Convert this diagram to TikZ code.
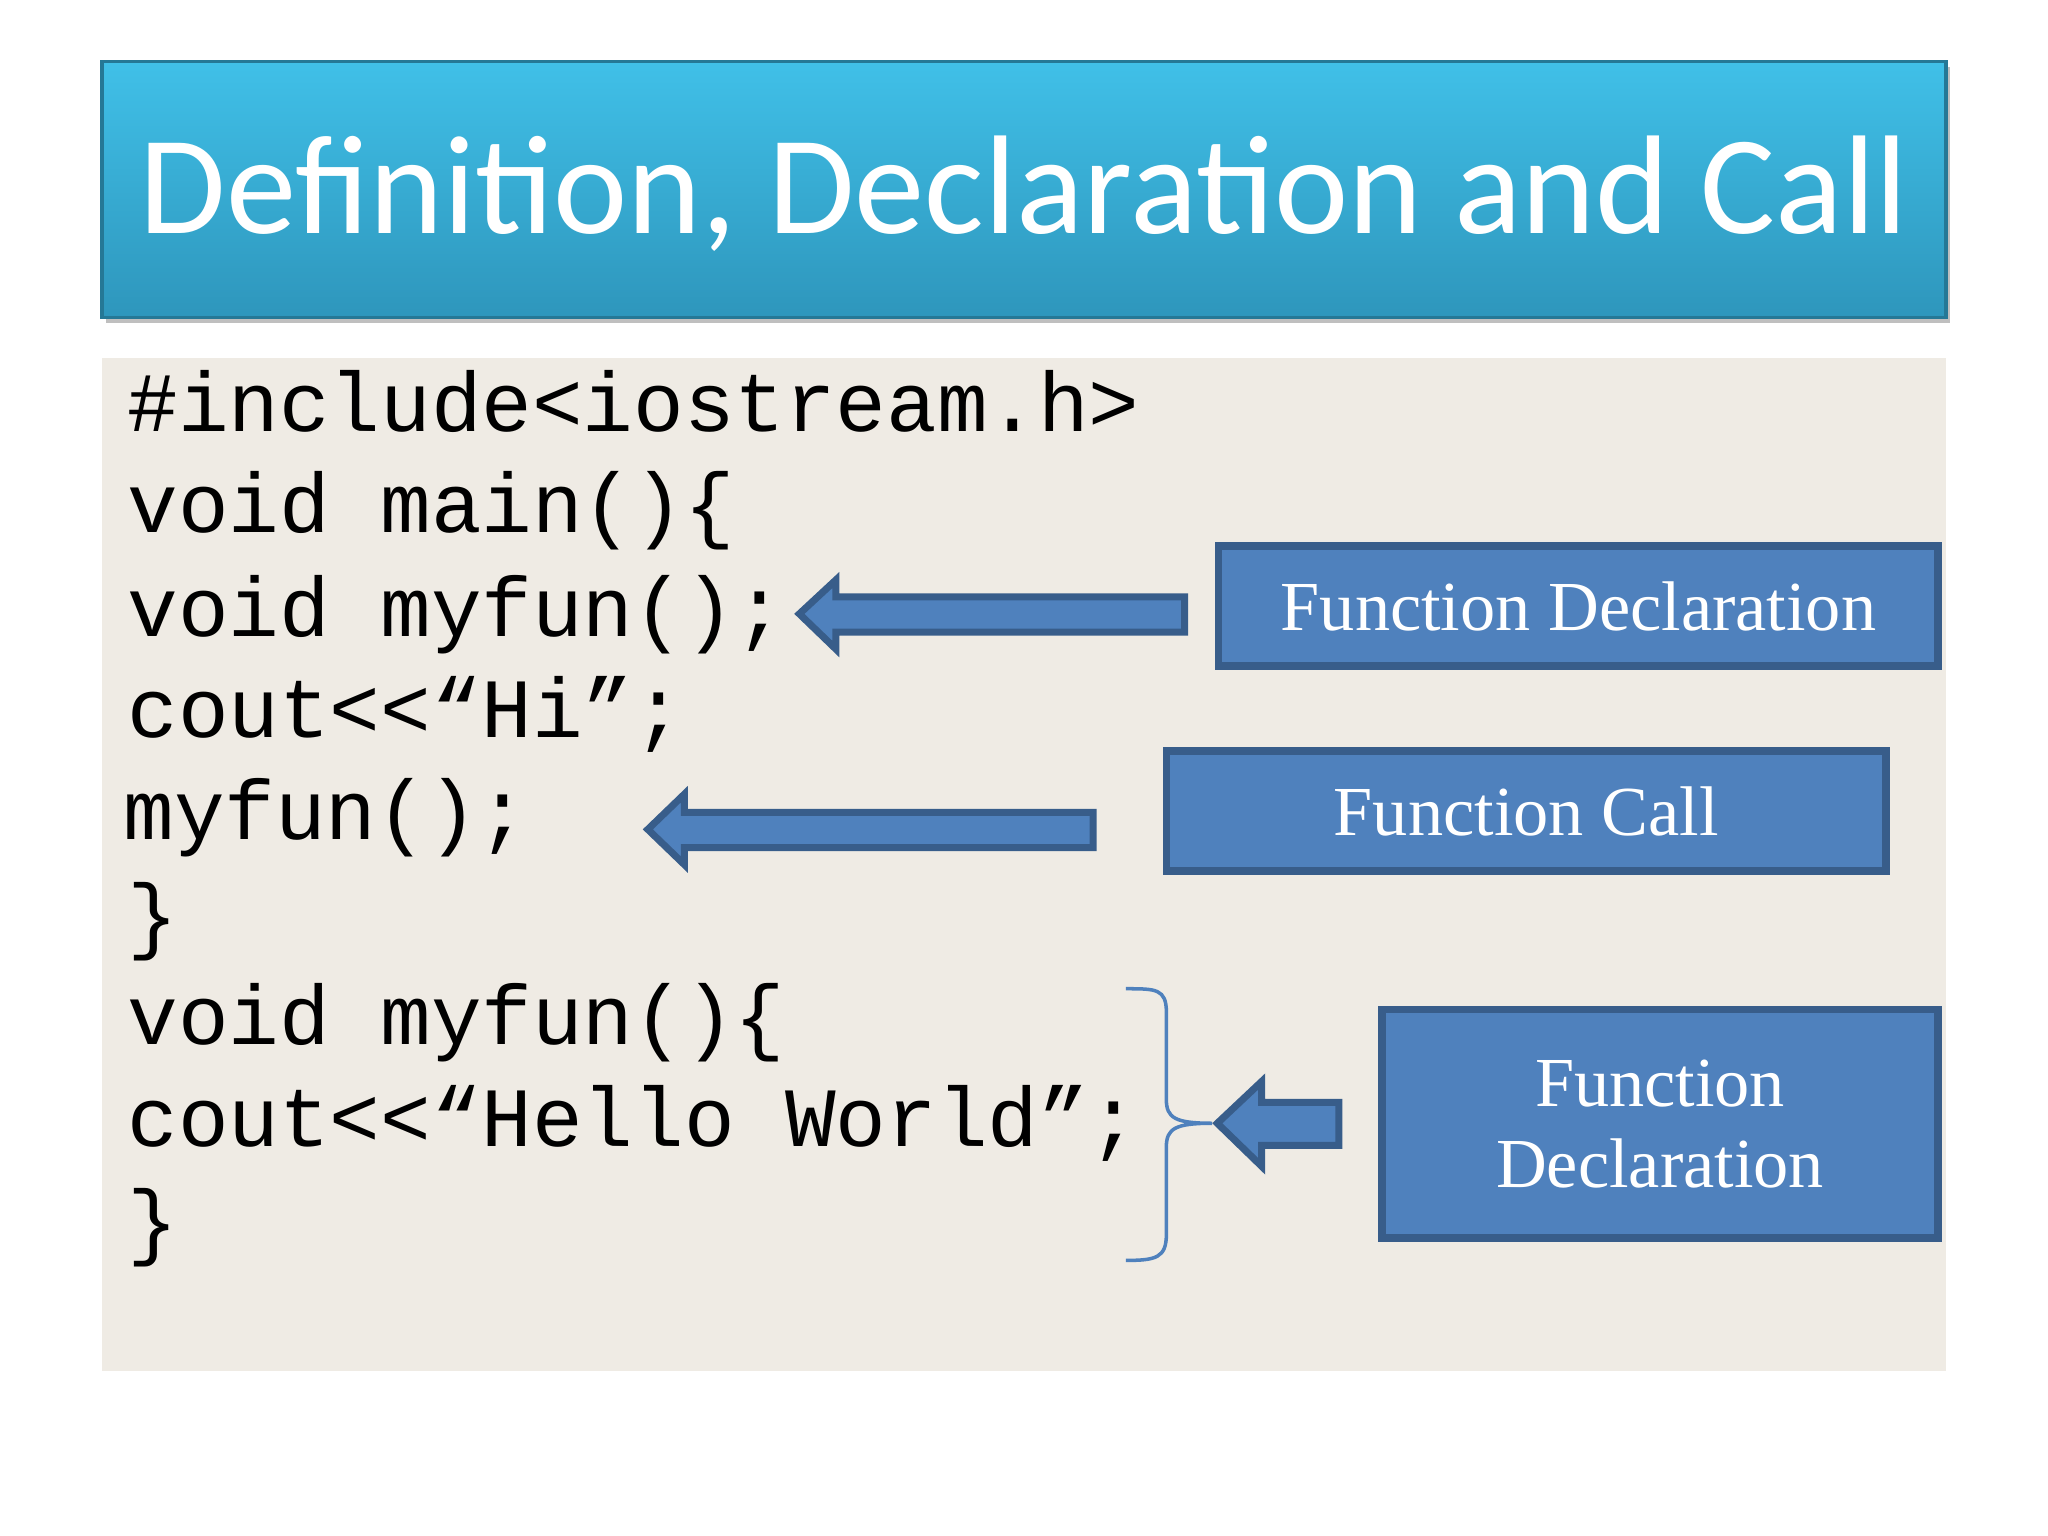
\documentclass[tikz,border=0pt]{standalone}
\usepackage{fontspec}
\setmainfont{Liberation Serif}
\newfontfamily\titlefont{Carlito}
\newfontfamily\codefont{Liberation Mono}
\usetikzlibrary{decorations.pathreplacing}
\definecolor{boxfill}{HTML}{4F81BD}
\definecolor{boxline}{HTML}{385D8A}
\definecolor{codebg}{HTML}{EFEBE4}
\definecolor{titletop}{HTML}{40C0E8}
\definecolor{titlebot}{HTML}{2E96BC}
\tikzset{
  lbl/.style={draw=boxline,line width=2.2pt,fill=boxfill,text=white,font=\fontsize{20}{23}\selectfont,align=center},
  blockarrow/.style={draw=boxline,line width=2pt,fill=boxfill,line join=miter},
  code/.style={anchor=base west,inner sep=0pt,font=\codefont\fontsize{24}{24}\selectfont}
}
\begin{document}
\begin{tikzpicture}[x=0.01306cm,y=-0.01306cm]
\useasboundingbox (0,0) rectangle (1568,1176);
\fill[white] (0,0) rectangle (1568,1176);
% title
\fill[black!25] (81,51) rectangle (1493,247);
\shade[top color=titletop,bottom color=titlebot,draw=titlebot!80!black,line width=1pt] (78,47) rectangle (1490,243);
\node[text=white,font=\titlefont\fontsize{40}{44}\selectfont] (title) at (784,148) {Definition, Declaration and Call};
% code box
\fill[codebg] (78,274) rectangle (1490,1050);
\node[code] (l1) at (97,330) {\#include<iostream.h>};
\node[code] (l2) at (97,408) {void main()\{};
\node[code] (l3) at (97,487) {void myfun();};
\node[code] (l4) at (97,565) {cout<<“Hi”;};
\node[code] (l5) at (94,643) {myfun();};
\node[code] (l6) at (97,722) {\}};
\node[code] (l7) at (97,800) {void myfun()\{};
\node[code] (l8) at (97,878) {cout<<“Hello World”;};
\node[code] (l9) at (97,957) {\}};
% labels
\node[lbl,minimum width=551*0.01306cm,minimum height=92*0.01306cm] (b1) at (1208.5,464) {Function Declaration};
\node[lbl,minimum width=551*0.01306cm,minimum height=92*0.01306cm] (b2) at (1168.5,621) {Function Call};
\node[lbl,minimum width=426*0.01306cm,minimum height=175*0.01306cm] (b3) at (1271,860.5) {Function\\Declaration};
% arrows
\draw[blockarrow] (612,470) -- (640,444) -- (640,457) -- (907,457) -- (907,484) -- (640,484) -- (640,497) -- cycle;
\draw[blockarrow] (496,635) -- (524,608) -- (524,622) -- (837,622) -- (837,649) -- (524,649) -- (524,662) -- cycle;
\draw[blockarrow] (932,860) -- (966,828) -- (966,844) -- (1025,844) -- (1025,877) -- (966,877) -- (966,893) -- cycle;
% brace
\coordinate (bt) at (862,757);
\coordinate (bb) at (862,965);
\draw[boxfill,line width=1pt] (bt) .. controls (885,757) and (893,757) .. (893,775) -- (893,842) .. controls (893,856) and (900,860) .. (928,860)
  .. controls (900,860) and (893,864) .. (893,878) -- (893,945) .. controls (893,963) and (885,965) .. (bb);
\end{tikzpicture}
\end{document}
